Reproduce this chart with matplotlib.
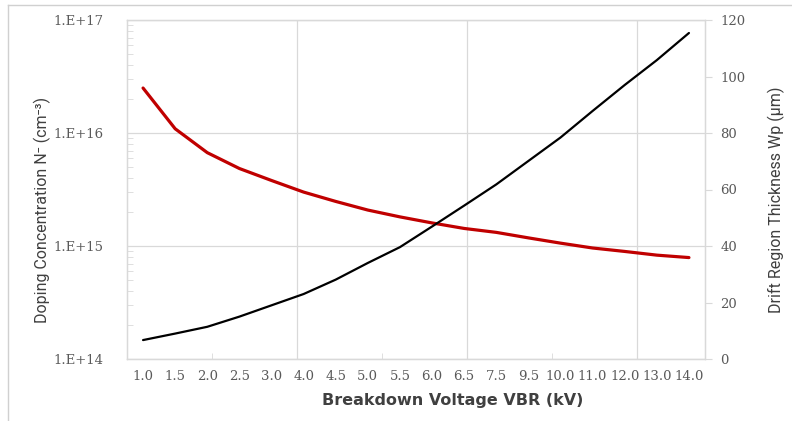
import numpy as np
import matplotlib.pyplot as plt
from matplotlib.lines import Line2D

# categories on the x axis (Excel style text axis)
voltages = ['1.0', '1.5', '2.0', '2.5', '3.0', '4.0', '4.5', '5.0', '5.5',
            '6.0', '6.5', '7.5', '9.5', '10.0', '11.0', '12.0', '13.0', '14.0']

# doping concentration N- (cm^-3), left log axis
doping = [2.5e16, 1.09e16, 6.7e15, 4.85e15, 3.8e15, 3.0e15, 2.48e15, 2.08e15, 1.81e15,
          1.60e15, 1.43e15, 1.32e15, 1.18e15, 1.06e15, 9.6e14, 8.95e14, 8.3e14, 7.9e14]

# drift region thickness Wp (um), right axis
thickness = [6.7, 9.0, 11.4, 15.0, 19.0, 23.0, 28.1, 34.0, 39.6,
             46.9, 54.3, 61.8, 70.1, 78.4, 87.8, 97.0, 105.8, 115.4]

grid_col = '#d9d9d9'
tick_col = '#595959'
title_col = '#404040'
tick_font = 'DejaVu Serif'

fig = plt.figure(figsize=(7.92, 4.21), dpi=100)
ax = fig.add_axes([127 / 792, 1 - 359 / 421, 578 / 792, 339 / 421])
ax2 = ax.twinx()

x = np.arange(len(voltages))

# left axis: log doping
ax.plot(x, doping, color='#c00000', lw=2.3, solid_capstyle='round',
        solid_joinstyle='round', zorder=3)
ax.set_yscale('log')
ax.set_ylim(1e14, 1e17)
ax.set_xlim(-0.5, len(voltages) - 0.5)
ax.set_yticks([1e14, 1e15, 1e16, 1e17])
ax.set_yticklabels(['1.E+14', '1.E+15', '1.E+16', '1.E+17'])
ax.yaxis.grid(True, which='major', color=grid_col, lw=0.9)
ax.tick_params(axis='y', which='major', length=0, pad=17, labelcolor=tick_col, labelsize=9.5)
ax.tick_params(axis='y', which='minor', direction='in', length=4, color=grid_col)
for lab in ax.get_yticklabels():
    lab.set_fontfamily(tick_font)

# vertical grid lines and small ticks of the hidden value axis
for f in [0.294, 0.588, 0.882]:
    ax.plot([f, f], [0, 1], transform=ax.transAxes, color=grid_col, lw=0.9, zorder=0)
ax.set_xticks(x)
ax.set_xticklabels(voltages, fontfamily=tick_font)
ax.set_xticks([-0.5 + 18 * f for f in [0.147, 0.441, 0.735]], minor=True)
ax.tick_params(axis='x', which='major', length=0, pad=8, labelcolor=tick_col, labelsize=9.5)
ax.tick_params(axis='x', which='minor', direction='in', length=4, color=grid_col)

# right axis: thickness
ax2.plot(x, thickness, color='black', lw=1.6, solid_capstyle='round',
         solid_joinstyle='round', zorder=3)
ax2.set_ylim(0, 120)
ax2.set_yticks(range(0, 121, 20))
ax2.tick_params(axis='y', direction='out', length=5, color=grid_col, pad=6,
                labelcolor=tick_col, labelsize=9.5)
for lab in ax2.get_yticklabels():
    lab.set_fontfamily(tick_font)

for a in (ax, ax2):
    for s in a.spines.values():
        s.set_color(grid_col)
        s.set_linewidth(0.9)

# axis titles
fig.text(453 / 792, 1 - 401 / 421, 'Breakdown Voltage VBR (kV)', ha='center', va='center',
         fontsize=11.5, fontweight='bold', color=title_col, family=['DejaVu Sans'])
fig.text(42 / 792, 1 - 210 / 421, 'Doping Concentration N\u207b (cm\u207b\u00b3)', rotation=90,
         ha='center', va='center', fontsize=11.5, color=title_col,
         family=['Roboto', 'DejaVu Sans'])
fig.text(776 / 792, 1 - 200 / 421, 'Drift Region Thickness Wp (\u00b5m)', rotation=90,
         ha='center', va='center', fontsize=11.5, color=title_col,
         family=['Roboto', 'DejaVu Sans'])

# chart frame (top and left edges)
fig.add_artist(Line2D([8 / 792, 1], [1 - 5 / 421, 1 - 5 / 421], color='#d0d0d0', lw=1))
fig.add_artist(Line2D([8 / 792, 8 / 792], [0, 1 - 5 / 421], color='#d0d0d0', lw=1))

fig.savefig('out.png', dpi=100)
